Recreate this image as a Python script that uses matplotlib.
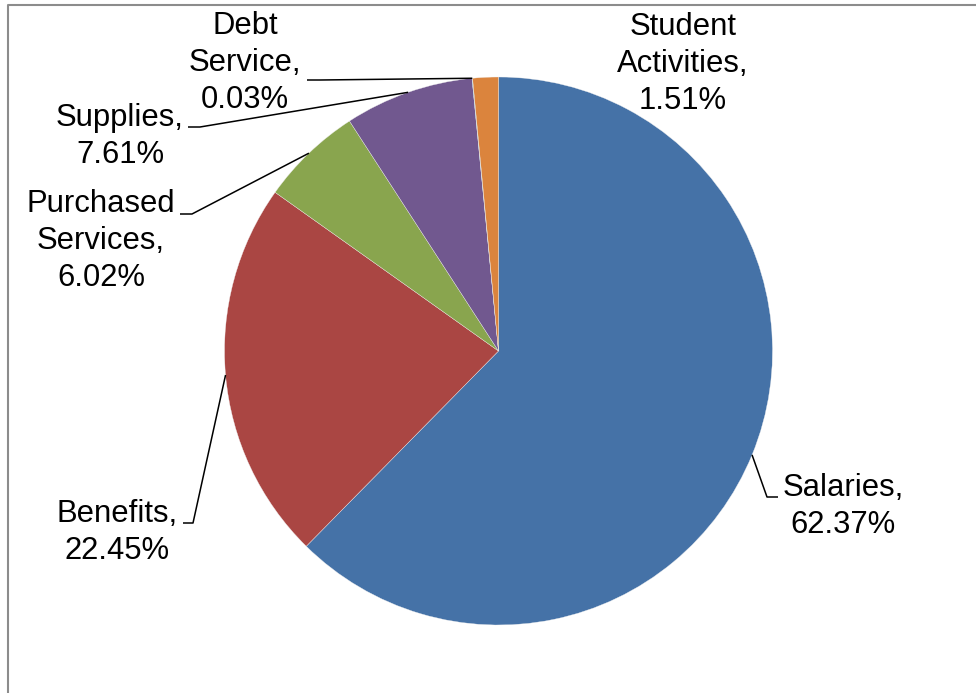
import numpy as np
import matplotlib.pyplot as plt

plt.rcParams['font.family'] = ['Liberation Sans', 'DejaVu Sans']

categories = ['Salaries', 'Benefits', 'Purchased\nServices', 'Supplies',
              'Debt\nService', 'Student\nActivities']
shares = [62.37, 22.45, 6.02, 7.61, 0.03, 1.51]
colors = ['#4572A7', '#AA4643', '#89A54E', '#71588F', '#4198AF', '#DB843D']

W, H = 976, 693


def px(x, y):
    # work in image-style pixel coords (origin top-left)
    return x, H - y


# label block centre (x, first line y) and leader elbow points for each slice
label_pos = [(843, 489), (117, 515), (101, 206), (120, 119), (245, 28), (683, 29)]
elbows = [
    [(767, 497), (778, 497)],
    [(193, 523), (183, 523)],
    [(192, 214), (180, 214)],
    [(200, 127), (188, 127)],
    [(320, 80), (307, 80)],
    None,
]

fig = plt.figure(figsize=(W / 100, H / 100), dpi=100)
ax = fig.add_axes([0, 0, 1, 1])
ax.set_xlim(0, W)
ax.set_ylim(0, H)
ax.set_aspect('equal')
ax.axis('off')

cx, cy = px(498.5, 351)
r = 274
wedges, _ = ax.pie(shares, colors=colors, startangle=90, counterclock=False,
                   center=(cx, cy), radius=r,
                   wedgeprops=dict(edgecolor='#f0f0f0', linewidth=0.25))
ax.set_xlim(0, W)
ax.set_ylim(0, H)

line_h = 35
for i, w in enumerate(wedges):
    name = categories[i]
    text = '%s,\n%.2f%%' % (name, shares[i])
    nlines = text.count('\n') + 1
    lx, ly = label_pos[i]
    ax.text(*px(lx, ly + (nlines - 1) * line_h / 2), text, ha='center', va='center',
            multialignment='center', fontsize=22.3, linespacing=1.31, color='black')
    if elbows[i] is not None:
        mid = np.deg2rad((w.theta1 + w.theta2) / 2)
        sx, sy = cx + r * np.cos(mid), cy + r * np.sin(mid)
        pts = [(sx, sy)] + [px(*p) for p in elbows[i]]
        ax.plot([p[0] for p in pts], [p[1] for p in pts], color='black', lw=1.1,
                solid_capstyle='butt')

# chart area border (only left and top edges fall inside the image)
ax.plot([8, 8, W + 5], [-5, H - 5, H - 5], color='#8c8c8c', lw=1.5, clip_on=False)

fig.savefig('out.png', dpi=100)
